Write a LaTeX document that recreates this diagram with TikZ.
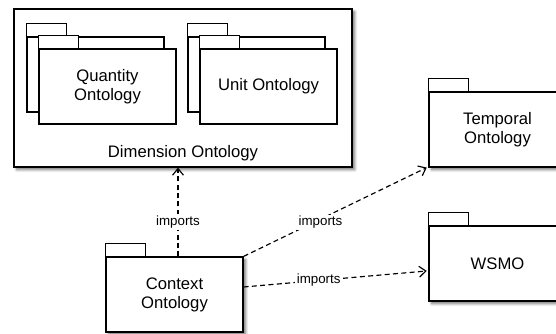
\documentclass[tikz,border=0pt]{standalone}
\usepackage{fontspec}
\setmainfont{Liberation Sans}
\usetikzlibrary{arrows.meta,shadows.blur}

\tikzset{
  package/.style={draw, fill=white, minimum width=82.2pt, minimum height=45pt,
    inner sep=0pt, align=center, font=\fontsize{10}{11.5}\selectfont},
  tab/.style={draw, fill=white},
  shade/.style={blur shadow={shadow xshift=1.6pt, shadow yshift=-1.6pt,
    shadow blur radius=1.6pt, shadow blur steps=6, shadow opacity=55}},
  imports/.style={dash pattern=on 3pt off 2pt, -{Straight Barb[length=4pt,width=6.5pt]}},
  implabel/.style={fill=white, inner sep=1pt, font=\fontsize{8}{9.6}\selectfont}
}

\begin{document}
\begin{tikzpicture}[x=0.6pt, y=-0.6pt, line width=0.7pt]
    \useasboundingbox (0,0) rectangle (556,334);
    % the dimension ontology with its two sub packages
    \node[draw, fill=white, shade, minimum width=202.8pt, minimum height=94.8pt] (dim) at (183,88) {};
    \node[font=\fontsize{10}{12}\selectfont] (dimname) at (183,153) {Dimension Ontology};
    \node[package] (qback) at (95.5,74.5) {};
    \draw[tab] (qback.north west) rectangle ++(40,-13);
    \node[package] (quantity) at (107.5,86.5) {Quantity\\Ontology};
    \draw[tab] (quantity.north west) rectangle ++(40,-13);
    \node[package] (uback) at (256.5,74.5) {};
    \draw[tab] (uback.north west) rectangle ++(40,-13);
    \node[package] (unit) at (268.5,86.5) {Unit Ontology};
    \draw[tab] (unit.north west) rectangle ++(40,-13);

    % the other packages
    \node[package, shade] (ctx) at (174.5,294.5) {Context\\Ontology};
    \draw[tab] (ctx.north west) rectangle ++(40,-13);
    \node[package, shade] (temporal) at (497.5,129.5) {Temporal\\Ontology};
    \draw[tab] (temporal.north west) rectangle ++(40,-13);
    \node[package, shade] (wsmo) at (497.5,263.5) {WSMO};
    \draw[tab] (wsmo.north west) rectangle ++(40,-13);

    % imports
    \draw[imports] ([xshift=2.1pt]ctx.north) -- ([xshift=2.1pt]ctx.north |- dim.south)
        node[implabel, pos=0.39] {imports};
    \draw[imports] (ctx.north east) -- ([xshift=-1pt]temporal.south west)
        node[implabel, pos=0.42, yshift=-2pt] {imports};
    \draw[imports] ([yshift=4.5pt]ctx.east) -- ([xshift=-1pt, yshift=-4.5pt]wsmo.west)
        node[implabel, pos=0.41] {imports};
\end{tikzpicture}
\end{document}
